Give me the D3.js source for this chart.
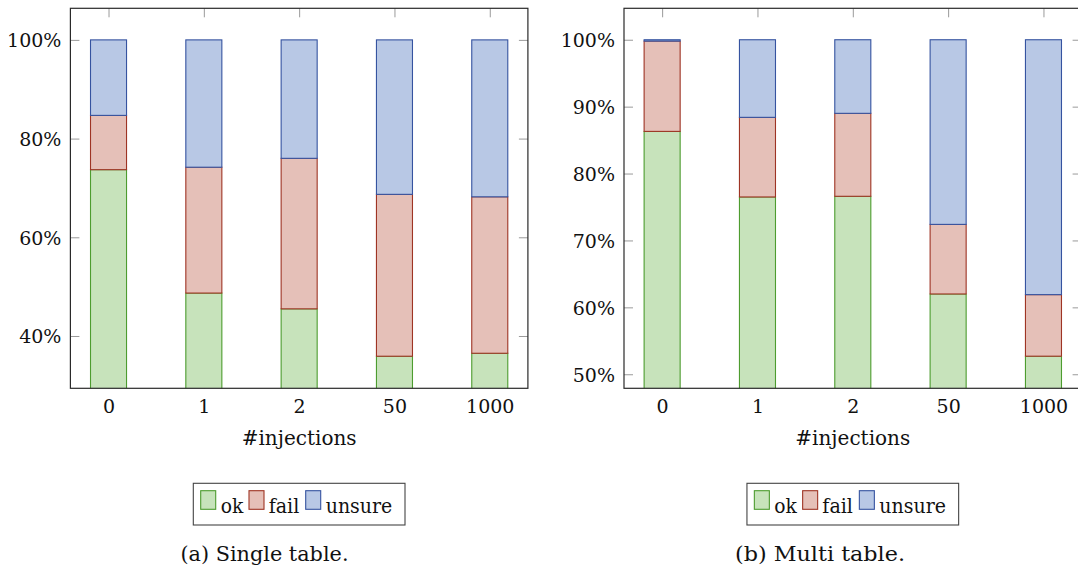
<!DOCTYPE html>
<html>
<head>
<meta charset="utf-8">
<script src="https://cdn.jsdelivr.net/npm/d3@7"></script>
<style>
  html, body { margin: 0; padding: 0; background: #fff; }
  svg { display: block; }
</style>
</head>
<body>
<svg id="chart" width="1078" height="569" font-family="DejaVu Serif"></svg>
<script>
// Injection counts on the x axis
const categories = ["0", "1", "2", "50", "1000"];
const seriesNames = ["ok", "fail", "unsure"];

// Single table: share of outcomes (%) per injection count
const singleOk     = [73.7, 48.7, 45.5, 35.9, 36.5];
const singleFail   = [11.0, 25.5, 30.5, 32.8, 31.7];
const singleUnsure = [15.3, 25.8, 24.0, 31.3, 31.8];

// Multi table: share of outcomes (%) per injection count
const multiOk     = [86.3, 76.5, 76.6, 62.0, 52.7];
const multiFail   = [13.5, 11.9, 12.4, 10.4, 9.2];
const multiUnsure = [0.2, 11.6, 11.0, 27.6, 38.1];

// Y tick values (%)
const singleTicks = [40, 60, 80, 100];
const multiTicks  = [50, 60, 70, 80, 90, 100];

const xLabel = "#injections";
const captions = ["(a) Single table.", "(b) Multi table."];

const fills   = { ok: "#c7e3bb", fail: "#e5c0b8", unsure: "#b8c8e5" };
const strokes = { ok: "#4d9c2f", fail: "#9e3424", unsure: "#3553a0" };
const FONT = "DejaVu Serif";

const svg = d3.select("#chart");

const panels = [
  { id: "single", left: 70.4, right: 527.9, yDomain: [29.4, 106.4],
    ok: singleOk, fail: singleFail, unsure: singleUnsure, ticks: singleTicks,
    caption: captions[0], captionX: 264.5, captionW: 168 },
  { id: "multi", left: 624.0, right: 1081.6, yDomain: [47.9, 104.7],
    ok: multiOk, fail: multiFail, unsure: multiUnsure, ticks: multiTicks,
    caption: captions[1], captionX: 820, captionW: 170 }
];

const plotTop = 8.3, plotBottom = 388.3, tickLen = 9;

panels.forEach(p => {
  const x = d3.scaleLinear().domain([-0.4, categories.length - 0.6]).range([p.left, p.right]);
  const y = d3.scaleLinear().domain(p.yDomain).range([plotBottom, plotTop]);
  const barW = (x(1) - x(0)) * 0.378;

  const g = svg.append("g");

  // clip region for the plot area
  const clipId = "clip-" + p.id;
  svg.append("clipPath").attr("id", clipId)
    .append("rect").attr("x", p.left).attr("y", plotTop)
    .attr("width", p.right - p.left).attr("height", plotBottom - plotTop);

  const idx = categories.map((c, i) => i);

  // Axes (ticks inward on all four sides)
  const styleAxis = sel => {
    sel.attr("font-family", FONT).attr("font-size", 19);
    sel.select(".domain").remove();
    sel.selectAll(".tick line").attr("stroke", "#9a9a9a").attr("stroke-width", 1);
    sel.selectAll(".tick text")
      .attr("font-family", FONT)
      .attr("font-size", 19).attr("fill", "#111");
  };

  g.append("g").attr("transform", `translate(${p.left},0)`)
    .call(d3.axisLeft(y).tickValues(p.ticks).tickFormat(d => d + "%")
      .tickSize(-tickLen).tickPadding(9))
    .call(styleAxis)
    .call(s => s.selectAll(".tick text").attr("dy", "0.36em"));

  g.append("g").attr("transform", `translate(${p.right},0)`)
    .call(d3.axisRight(y).tickValues(p.ticks).tickFormat("").tickSize(-tickLen))
    .call(styleAxis);

  g.append("g").attr("transform", `translate(0,${plotTop})`)
    .call(d3.axisTop(x).tickValues(idx).tickFormat("").tickSize(-tickLen))
    .call(styleAxis);

  g.append("g").attr("transform", `translate(0,${plotBottom})`)
    .call(d3.axisBottom(x).tickValues(idx).tickFormat(i => categories[i])
      .tickSize(-tickLen).tickPadding(11))
    .call(styleAxis);

  // Stacked bars
  const rows = idx.map(i => ({ ok: p.ok[i], fail: p.fail[i], unsure: p.unsure[i], i }));
  const stacked = d3.stack().keys(seriesNames)(rows);

  const bars = svg.append("g").attr("clip-path", `url(#${clipId})`);
  stacked.forEach(layer => {
    bars.append("g").selectAll("rect").data(layer).join("rect")
      .attr("x", d => x(d.data.i) - barW / 2)
      .attr("width", barW)
      .attr("y", d => y(d[1]))
      .attr("height", d => Math.max(0, y(d[0]) - y(d[1])))
      .attr("fill", fills[layer.key])
      .attr("stroke", strokes[layer.key])
      .attr("stroke-width", 1.1);
  });

  // Plot frame
  svg.append("rect")
    .attr("x", p.left).attr("y", plotTop)
    .attr("width", p.right - p.left).attr("height", plotBottom - plotTop)
    .attr("fill", "none").attr("stroke", "#2a2a2a").attr("stroke-width", 1.2);

  // X axis title
  const cx = (p.left + p.right) / 2;
  svg.append("text")
    .attr("x", cx).attr("y", 445)
    .attr("text-anchor", "middle")
    .attr("font-family", FONT).attr("font-size", 19.5)
    .attr("fill", "#111")
    .attr("textLength", 115).attr("lengthAdjust", "spacingAndGlyphs")
    .text(xLabel);

  // Legend
  const legW = 211.7, legH = 41.7;
  const lx = cx - legW / 2, ly = 483.3;
  const lg = svg.append("g").attr("transform", `translate(${lx},${ly})`);
  lg.append("rect").attr("width", legW).attr("height", legH)
    .attr("fill", "#fff").attr("stroke", "#444").attr("stroke-width", 1.1);
  const swatchX = [7.4, 55.7, 112.4];
  const labelX = [27.4, 75.4, 132.4];
  const labelW = [22.6, 30.6, 66.6];
  seriesNames.forEach((k, j) => {
    lg.append("rect")
      .attr("x", swatchX[j]).attr("y", 7.4)
      .attr("width", 15).attr("height", 18.6)
      .attr("fill", fills[k]).attr("stroke", strokes[k]).attr("stroke-width", 1.1);
    lg.append("text")
      .attr("x", labelX[j]).attr("y", 29.4)
      .attr("font-family", FONT).attr("font-size", 20)
      .attr("fill", "#111")
      .attr("textLength", labelW[j]).attr("lengthAdjust", "spacingAndGlyphs")
      .text(k);
  });

  // Sub-figure caption
  svg.append("text")
    .attr("x", p.captionX).attr("y", 560.5)
    .attr("text-anchor", "middle")
    .attr("font-family", FONT).attr("font-size", 20)
    .attr("fill", "#111")
    .attr("textLength", p.captionW).attr("lengthAdjust", "spacingAndGlyphs")
    .text(p.caption);
});
</script>
</body>
</html>
